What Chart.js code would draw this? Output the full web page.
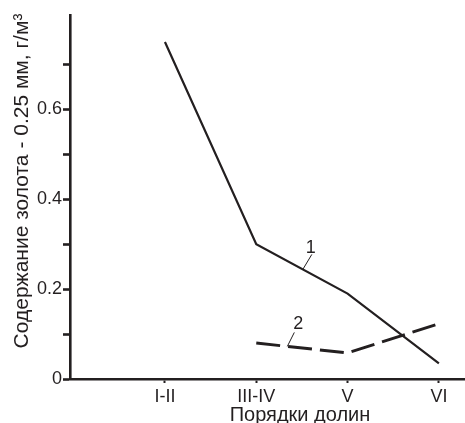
<!DOCTYPE html>
<html>
<head>
<meta charset="utf-8">
<script src="https://cdn.jsdelivr.net/npm/chart.js@4.4.1/dist/chart.umd.min.js"></script>
<style>
  html, body { margin: 0; padding: 0; background: #fff; }
  #wrap { width: 465px; height: 423px; position: relative; }
</style>
</head>
<body>
<div id="wrap"><canvas id="chart"></canvas></div>
<script>
// valley orders on the x axis
const categories = ['I-II', 'III-IV', 'V', 'VI'];
// gold content, g/m3 (curve 1 solid, curve 2 dashed)
const series1 = [0.75, 0.30, 0.19, 0.035];
const series2 = [null, 0.08, 0.058, 0.123];
const yLabelTicks = [0, 0.2, 0.4, 0.6];
const seriesNames = ['1', '2'];

const yTitle = 'Содержание золота - 0.25 мм, г/м³';
const xTitle = 'Порядки долин';

const ink = '#231f20';
const fontFamily = '"Liberation Sans", Arial, sans-serif';

function toPoints(arr) {
    return arr.map((v, i) => ({ x: i, y: v })).filter(p => p.y !== null);
}

// value of a series at a fractional category index
function interp(arr, t) {
    const i = Math.floor(t);
    return arr[i] + (arr[i + 1] - arr[i]) * (t - i);
}

// axis titles and the "1" / "2" callouts
const extrasPlugin = {
    id: 'extras',
    afterDraw(chart) {
        const ctx = chart.ctx;
        const xs = chart.scales.x, ys = chart.scales.y;
        ctx.save();
        ctx.fillStyle = ink;
        ctx.strokeStyle = ink;

        // y title
        ctx.save();
        ctx.translate(28, 181);
        ctx.rotate(-Math.PI / 2);
        ctx.font = '21px ' + fontFamily;
        ctx.textAlign = 'center';
        ctx.textBaseline = 'alphabetic';
        ctx.fillText(yTitle, 0, 0);
        ctx.restore();

        // x title
        ctx.font = '20px ' + fontFamily;
        ctx.textAlign = 'center';
        ctx.textBaseline = 'alphabetic';
        ctx.fillText(xTitle, 300, 421);

        // callouts
        const callouts = [
            { name: seriesNames[0], data: series1, t: 1.51, dx: 9, dy: -15, tx: 8, ty: -16 },
            { name: seriesNames[1], data: series2, t: 1.34, dx: 7, dy: -14, tx: 11, ty: -17 }
        ];
        ctx.font = '18px ' + fontFamily;
        ctx.lineWidth = 1;
        callouts.forEach(c => {
            const px = xs.getPixelForValue(c.t);
            const py = ys.getPixelForValue(interp(c.data, c.t));
            ctx.beginPath();
            ctx.moveTo(px, py);
            ctx.lineTo(px + c.dx, py + c.dy);
            ctx.stroke();
            ctx.fillText(c.name, px + c.tx, py + c.ty);
        });
        ctx.restore();
    }
};

new Chart(document.getElementById('chart'), {
    type: 'line',
    data: {
        datasets: [
            {
                label: seriesNames[0],
                data: toPoints(series1),
                borderColor: ink,
                borderWidth: 2.2,
                pointRadius: 0,
                tension: 0
            },
            {
                label: seriesNames[1],
                data: toPoints(series2),
                borderColor: ink,
                borderWidth: 3,
                borderDash: [24, 8],
                pointRadius: 0,
                tension: 0
            }
        ]
    },
    options: {
        responsive: true,
        maintainAspectRatio: false,
        animation: false,
        layout: { padding: { top: 15, right: 0, left: 0, bottom: 0 } },
        plugins: {
            legend: { display: false },
            tooltip: { enabled: false }
        },
        scales: {
            x: {
                type: 'linear',
                min: -1.04,
                max: 3.286,
                afterBuildTicks: (scale) => {
                    scale.ticks = categories.map((c, i) => ({ value: i }));
                },
                afterFit: (scale) => { scale.height = 44; },
                border: { display: true, color: ink, width: 2.6 },
                grid: { drawOnChartArea: false, tickLength: 4, tickWidth: 2, tickColor: ink },
                ticks: {
                    color: ink,
                    padding: 3,
                    maxRotation: 0,
                    autoSkip: false,
                    font: { family: fontFamily, size: 18 },
                    callback: (v) => categories[v] !== undefined ? categories[v] : ''
                }
            },
            y: {
                min: 0,
                max: 0.81,
                afterBuildTicks: (scale) => {
                    scale.ticks = [0, 0.1, 0.2, 0.3, 0.4, 0.5, 0.6, 0.7].map(v => ({ value: v }));
                },
                afterFit: (scale) => { scale.width = 70; },
                border: { display: true, color: ink, width: 2.6 },
                grid: { drawOnChartArea: false, tickLength: 7, tickWidth: 2.6, tickColor: ink },
                ticks: {
                    color: ink,
                    padding: 1,
                    font: { family: fontFamily, size: 18 },
                    callback: (v) => {
                        const hit = yLabelTicks.find(t => Math.abs(t - v) < 1e-6);
                        if (hit === undefined) return '';
                        return hit === 0 ? '0' : hit.toFixed(1);
                    }
                }
            }
        }
    },
    plugins: [extrasPlugin]
});
</script>
</body>
</html>
